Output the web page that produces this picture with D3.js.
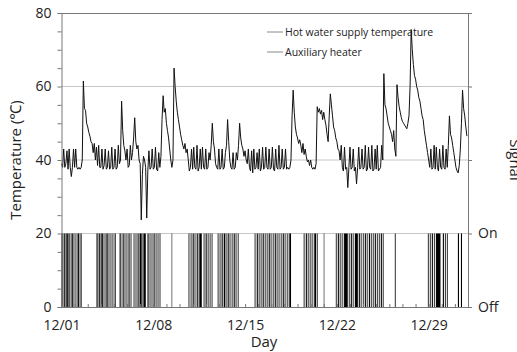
<!DOCTYPE html>
<html>
<head>
<meta charset="utf-8">
<script src="https://cdn.jsdelivr.net/npm/d3@7"></script>
<style>
  body { margin: 0; background: #fff; }
  svg { display: block; font-family: "Open Sans", "Noto Sans", sans-serif; }
</style>
</head>
<body>
<svg id="chart" width="517" height="352"></svg>
<script>
// hot water supply temperature, one row per day from 12/01, one value every 2 hours
const tempByDay = [
  [39, 38, 43, 38, 39, 42.5, 37.5, 43, 38, 35.5, 38, 43],
  [38, 43, 38, 37.5, 38, 37.5, 38, 40, 61.5, 54, 53.5, 50],
  [49, 47.5, 46.5, 45, 44.5, 42, 44.5, 40, 43.5, 38.5, 44, 38],
  [38, 43, 37.5, 38.5, 43, 37.5, 38, 42.5, 37.5, 38, 43.5, 37.5],
  [38, 43, 37.5, 38, 44, 39, 40, 56, 48, 44, 42.5, 40],
  [43, 38, 38.5, 44, 40, 42, 46, 51.5, 45, 43, 44, 40],
  [39, 23.7, 36, 41, 40, 38, 24.2, 37, 42.5, 37.5, 38, 43],
  [37.5, 38, 43.5, 37.5, 37, 42, 38, 41, 51, 57.5, 53, 54],
  [50, 48, 46, 43, 40, 38, 40, 65, 60, 56, 53, 51],
  [49, 47, 45.5, 44, 43, 44.5, 42, 43, 40, 37, 38, 43],
  [37.5, 43.5, 38, 37.5, 44, 37, 38, 43, 37.5, 43.5, 38, 37.5],
  [43, 37.5, 38, 42, 40, 44, 50, 45, 43, 39, 38, 37.5],
  [43, 37.5, 38, 43, 37.5, 38, 42, 44, 51, 45, 40, 38],
  [37.5, 42, 37.5, 38, 42, 40, 44, 50, 46, 44, 43, 41],
  [42.5, 40, 39, 43, 38, 37, 42.5, 36.5, 43, 37.5, 38, 42],
  [37.5, 43, 37, 38, 43.5, 37.5, 38, 43.5, 38, 37.5, 43, 37.5],
  [38, 43.5, 37.5, 37, 43, 38, 37.5, 44, 37.5, 38, 43, 37.5],
  [38, 43, 37.5, 38, 37.5, 38, 40, 52, 59, 53, 49, 47],
  [46, 44.5, 45.5, 44, 42, 44.5, 41.5, 43, 41, 39.5, 40, 38.5],
  [40, 38, 37.5, 38, 37.5, 39, 54.5, 53, 54, 52.5, 53.5, 51],
  [53, 51, 49.5, 47, 45, 52, 58, 55, 52, 49, 48, 46],
  [45, 43, 42.5, 40, 44, 38, 37, 43.5, 37.5, 38, 32.5, 38],
  [43.5, 37.5, 38, 43, 37, 38, 33.5, 38, 43.5, 37.5, 38, 43],
  [37.5, 38, 44, 37, 37.5, 43.5, 38, 37.5, 44, 37, 37.5, 43],
  [37.5, 44, 37, 37.5, 38, 44, 40, 63.5, 55, 54, 52, 50],
  [49, 48, 47, 45, 48, 43, 41, 60.5, 57, 54.5, 53, 51.5],
  [50.5, 50, 49.5, 49, 48.5, 50, 52, 60, 75.5, 70, 66, 63],
  [62, 60, 59, 57, 56, 54, 52, 51, 48, 46, 44, 42],
  [40, 38, 43, 37.5, 38, 44, 37.5, 43.5, 38, 37, 43, 38],
  [37.5, 44, 38, 37.5, 43, 38, 44, 52, 47, 46, 44, 42],
  [40, 38, 37, 36.5, 38.5, 43, 50, 59, 54, 52, 49, 46.5]
];

// auxiliary heater on periods: [start, days after 12/01 00:00], [length, hours]
const heaterOn = [
  [0.00, 1.5], [0.08, 1.5], [0.19, 1.5], [0.31, 1.5], [0.38, 2.5], [0.53, 1.5], [0.61, 1.5], [0.76, 2.5],
  [0.92, 1.5], [1.07, 1.5], [1.22, 2.5], [1.30, 1.5], [1.45, 2],
  [2.67, 1.5], [2.75, 1.5], [2.86, 1.5], [2.98, 1.5], [3.05, 2.5], [3.21, 1.5], [3.36, 1.5], [3.44, 2],
  [3.59, 1.5], [3.74, 1.5], [3.89, 1.5], [4.05, 2],
  [4.43, 1.5], [4.50, 1.5], [4.66, 2], [4.81, 1.5], [4.96, 1.5], [5.11, 2], [5.27, 1.5], [5.50, 1.5],
  [5.65, 1.5], [5.80, 2], [5.95, 4], [6.18, 1.5], [6.26, 4], [6.56, 2], [6.72, 1.5],
  [6.87, 1.5], [7.02, 2], [7.18, 1.5], [7.33, 1.5], [7.48, 1.5],
  [8.40, 1],
  [9.69, 1.5], [9.85, 1.5], [10.00, 2], [10.15, 1.5], [10.31, 2], [10.46, 1.5], [10.53, 4],
  [10.84, 1.5], [10.99, 2], [11.15, 1.5], [11.30, 1.5], [11.45, 1.5],
  [11.91, 1.5], [12.06, 1.5], [12.21, 2], [12.37, 2.5], [12.52, 1.5], [12.67, 2], [12.82, 1.5],
  [12.98, 1.5], [13.13, 2], [13.28, 1.5], [13.44, 1.5],
  [14.73, 1.5], [14.89, 2], [15.04, 1.5], [15.19, 1.5], [15.34, 2], [15.50, 1.5], [15.65, 1.5],
  [15.80, 2], [15.95, 1.5], [16.11, 1.5], [16.26, 2], [16.41, 1.5], [16.56, 1.5], [16.72, 1.5],
  [16.87, 2], [17.02, 1.5], [17.18, 1.5], [17.33, 1.5], [17.40, 2.5],
  [18.47, 1.5], [18.63, 2], [18.78, 1.5], [18.93, 1.5], [19.08, 1.5], [19.24, 1.5], [19.31, 2.5], [19.47, 1.5],
  [20.00, 1],
  [20.92, 1.5], [21.07, 2], [21.22, 1.5], [21.37, 1.5], [21.53, 2], [21.60, 5.5], [21.91, 1.5],
  [22.06, 2], [22.21, 1.5], [22.37, 5.5], [22.67, 2], [22.82, 1.5], [22.98, 1.5], [23.13, 2],
  [23.28, 1.5], [23.44, 2], [23.59, 1.5], [23.74, 1.5], [23.89, 2], [24.05, 1.5], [24.20, 1.5],
  [24.35, 2], [24.50, 1.5],
  [25.42, 1.5],
  [27.94, 1.5], [28.09, 1.5], [28.24, 2], [28.40, 1.5], [28.55, 2], [28.63, 6.5], [29.08, 2],
  [29.24, 1.5], [29.39, 1.5],
  [30.23, 2], [30.46, 2]
];

const xTickLabels = ["12/01", "12/08", "12/15", "12/22", "12/29"];
const yTicks = [0, 20, 40, 60, 80];
const gridValues = [20, 40, 60];
const signalLabels = { 0: "Off", 20: "On" };
const legendLabels = ["Hot water supply temperature", "Auxiliary heater"];

const start = new Date(2015, 11, 1);
const end = new Date(2016, 0, 1);
const HOUR = 3600 * 1000, DAY = 24 * HOUR;
const stepMs = DAY / 12;

let temps = [];
tempByDay.forEach((row, d) => {
    row.forEach((v, i) => temps.push({ t: new Date(start.getTime() + d * DAY + i * stepMs), v: v }));
});

const plotLeft = 61.5, plotRight = 468, plotTop = 13, plotBottom = 307;

const svg = d3.select('#chart');

const x = d3.scaleTime().domain([start, end]).range([plotLeft, plotRight]);
const y = d3.scaleLinear().domain([0, 80]).range([plotBottom, plotTop]);
const ySignal = d3.scaleLinear().domain([0, 1]).range([plotBottom, y(20)]);
const at = days => new Date(start.getTime() + days * DAY);

// grid
svg.append('g').selectAll('line').data(gridValues).join('line')
    .attr('x1', plotLeft).attr('x2', plotRight)
    .attr('y1', d => y(d)).attr('y2', d => y(d))
    .attr('stroke', '#c6c6c6').attr('stroke-width', 1);

// heater signal
svg.append('g').selectAll('rect').data(heaterOn).join('rect')
    .attr('x', d => x(at(d[0])))
    .attr('width', d => x(at(d[0] + d[1] / 24)) - x(at(d[0])))
    .attr('y', ySignal(1))
    .attr('height', ySignal(0) - ySignal(1))
    .attr('fill', '#000');

// temperature line
const line = d3.line().x(d => x(d.t)).y(d => y(d.v));
svg.append('path').datum(temps)
    .attr('d', line)
    .attr('fill', 'none')
    .attr('stroke', '#111')
    .attr('stroke-width', 1)
    .attr('stroke-linejoin', 'round');

// frame top
svg.append('line').attr('x1', plotLeft).attr('x2', plotRight)
    .attr('y1', plotTop + 0.5).attr('y2', plotTop + 0.5)
    .attr('stroke', '#777');

// left axis
const yAxis = svg.append('g').attr('transform', 'translate(' + plotLeft + ',0)')
    .call(d3.axisLeft(y).tickValues(d3.range(0, 81, 5)).tickSize(4)
        .tickFormat(d => yTicks.includes(d) ? d : ''));

// bottom axis, daily ticks pointing up
const xAxis = svg.append('g').attr('transform', 'translate(0,' + plotBottom + ')')
    .call(d3.axisBottom(x).ticks(d3.timeDay.every(1)).tickSizeInner(-3).tickSizeOuter(0)
        .tickFormat(d => {
            let s = d3.timeFormat('%m/%d')(d);
            return xTickLabels.includes(s) ? s : '';
        }));
xAxis.selectAll('text').attr('dy', null).attr('y', 23);

// right axis
const rAxis = svg.append('g').attr('transform', 'translate(' + plotRight + ',0)')
    .call(d3.axisRight(y).tickValues(yTicks).tickSize(4).tickFormat(d => signalLabels[d] || ''));

[yAxis, xAxis, rAxis].forEach(a => {
    a.select('.domain').attr('stroke', '#777');
    a.selectAll('.tick line').attr('stroke', '#777');
    a.selectAll('text').attr('fill', '#222').style('font-size', '14px').style('font-family', '"Open Sans", sans-serif');
});
yAxis.selectAll('text').attr('x', -10);
rAxis.selectAll('text').attr('x', 10);

// axis titles
svg.append('text').attr('transform', 'translate(21,160) rotate(-90)')
    .attr('text-anchor', 'middle').attr('fill', '#222').style('font-size', '15px')
    .text('Temperature (℃)');
svg.append('text').attr('x', 264).attr('y', 347)
    .attr('text-anchor', 'middle').attr('fill', '#222').style('font-size', '15px')
    .text('Day');
svg.append('text').attr('transform', 'translate(510,160) rotate(90)')
    .attr('text-anchor', 'middle').attr('fill', '#222').style('font-size', '15px')
    .text('Signal');

// legend
const legend = svg.append('g').selectAll('g').data(legendLabels).join('g')
    .attr('transform', (d, i) => 'translate(267,' + (32 + i * 20) + ')');
legend.append('line').attr('x1', 0).attr('x2', 16).attr('stroke', '#888');
legend.append('text').attr('x', 18).attr('dy', '0.35em')
    .attr('fill', '#222').style('font-size', '10.5px').text(d => d);
</script>
</body>
</html>
